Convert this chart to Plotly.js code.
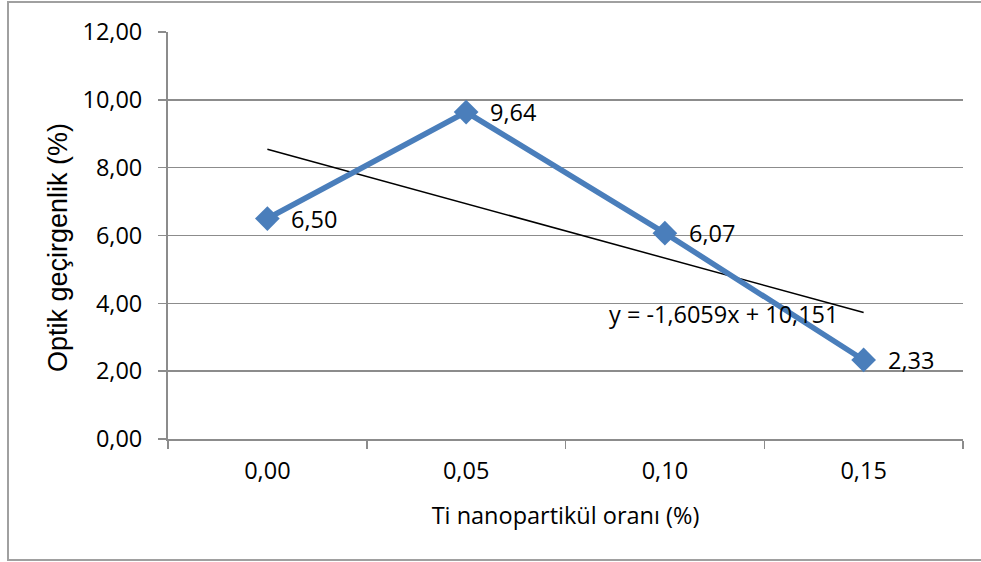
<!DOCTYPE html>
<html>
<head>
<meta charset="utf-8">
<script src="https://cdn.plot.ly/plotly-3.0.1.min.js"></script>
<style>
  html, body { margin: 0; padding: 0; background: #ffffff; }
  #chart { width: 981px; height: 562px; }
</style>
</head>
<body>
<div id="chart"></div>
<script>
// Ti nanoparticle ratio (categories) vs optical transmittance
const categories = ['0,00', '0,05', '0,10', '0,15'];
const transmittance = [6.50, 9.64, 6.07, 2.33];
const valueLabels = ['6,50', '9,64', '6,07', '2,33'];

// Linear trendline fitted over category index (1..n)
const trendSlope = -1.6059;
const trendIntercept = 10.151;
const trendLabel = 'y = -1,6059x + 10,151';

const yTickVals = [0, 2, 4, 6, 8, 10, 12];
const yTickText = ['0,00', '2,00', '4,00', '6,00', '8,00', '10,00', '12,00'];

const W = 981, H = 562;
const M = { l: 168, r: 18, t: 32, b: 123 };
const plotW = W - M.l - M.r;
const plotH = H - M.t - M.b;

const trendY = categories.map((_, i) => trendSlope * (i + 1) + trendIntercept);

const textFont = { family: 'Open Sans, sans-serif', size: 23.5, color: '#000000' };
const blue = '#4A7EBB';
const gridGrey = '#8C8C8C';

const dataTrace = {
  x: categories,
  y: transmittance,
  type: 'scatter',
  mode: 'lines+markers',
  line: { color: blue, width: 5.5 },
  marker: { symbol: 'diamond', size: 19, color: blue },
  cliponaxis: false,
  hoverinfo: 'x+y'
};

const trendTrace = {
  x: categories,
  y: trendY,
  type: 'scatter',
  mode: 'lines',
  line: { color: '#000000', width: 1.5 },
  hoverinfo: 'skip'
};

// value labels sit to the right of each point
const valueAnnotations = categories.map((c, i) => ({
  x: c,
  y: transmittance[i],
  xref: 'x', yref: 'y',
  text: valueLabels[i],
  showarrow: false,
  xanchor: 'left',
  yanchor: 'middle',
  xshift: 22,
  font: textFont
}));

// convert pixel position to paper coordinates
const px = x => (x - M.l) / plotW;
const py = y => (H - M.b - y) / plotH;

const layout = {
  width: W,
  height: H,
  margin: M,
  paper_bgcolor: '#ffffff',
  plot_bgcolor: '#ffffff',
  showlegend: false,
  font: textFont,
  xaxis: {
    type: 'category',
    range: [-0.5, 3.5],
    tickson: 'boundaries',
    ticks: 'outside',
    ticklen: 8,
    tickwidth: 1.5,
    tickcolor: gridGrey,
    ticklabelstandoff: 10,
    showline: true,
    linecolor: gridGrey,
    linewidth: 2,
    showgrid: false,
    zeroline: false,
    tickfont: textFont,
    title: { text: 'Ti nanopartikül oranı (%)', font: textFont, standoff: 22 }
  },
  yaxis: {
    range: [0, 12],
    tickvals: yTickVals,
    ticktext: yTickText,
    ticks: 'outside',
    ticklen: 8,
    tickwidth: 1.5,
    tickcolor: gridGrey,
    ticklabelstandoff: 11,
    showline: true,
    linecolor: gridGrey,
    linewidth: 2,
    showgrid: true,
    gridcolor: gridGrey,
    gridwidth: 1.5,
    zeroline: false,
    tickfont: textFont
  },
  annotations: valueAnnotations.concat([
    {
      xref: 'paper', yref: 'paper',
      x: px(723), y: py(314),
      xanchor: 'center', yanchor: 'middle',
      text: trendLabel,
      showarrow: false,
      font: textFont
    },
    {
      // vertical axis title
      xref: 'paper', yref: 'paper',
      x: px(58), y: py(248),
      xanchor: 'center', yanchor: 'middle',
      textangle: -90,
      text: 'Optik geçirgenlik (%)',
      showarrow: false,
      font: { family: 'Liberation Sans, Arial, sans-serif', size: 27, color: '#000000' }
    }
  ]),
  shapes: [{
    type: 'rect',
    xref: 'paper', yref: 'paper',
    x0: px(8), x1: px(990), y0: py(560), y1: py(2),
    line: { color: '#A0A0A0', width: 2 },
    fillcolor: 'rgba(0,0,0,0)',
    layer: 'below'
  }]
};

Plotly.newPlot('chart', [trendTrace, dataTrace], layout, { displayModeBar: false, staticPlot: true });
</script>
</body>
</html>
